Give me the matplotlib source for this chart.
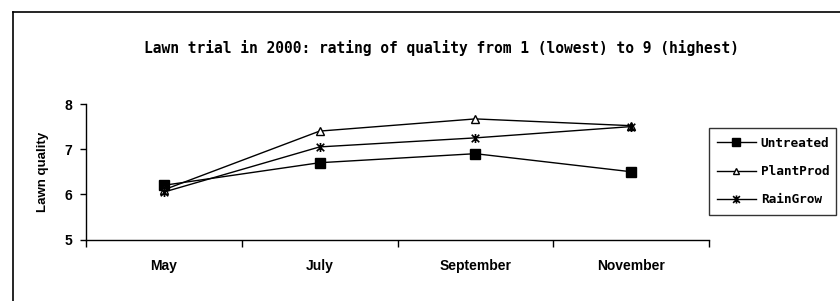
import matplotlib.pyplot as plt
from matplotlib.path import Path
from matplotlib.lines import Line2D

# data
months = ["May", "July", "September", "November"]
untreated = [6.2, 6.7, 6.9, 6.5]
plantprod = [6.1, 7.4, 7.67, 7.52]
raingrow = [6.05, 7.05, 7.25, 7.5]
y_ticks = [5, 6, 7, 8]

# Excel style "star" marker: an x with a vertical bar
star = Path([(-1, -1), (1, 1), (-1, 1), (1, -1), (0, -1.2), (0, 1.2)],
            [Path.MOVETO, Path.LINETO, Path.MOVETO, Path.LINETO, Path.MOVETO, Path.LINETO])

fig = plt.figure(figsize=(8.4, 3.01), dpi=100)
W, H = 840, 301

# outer chart border (left and top only are visible)
fig.add_artist(Line2D([13.5 / W, 13.5 / W], [0, 1 - 11.5 / H], color="black", lw=1.2))
fig.add_artist(Line2D([13.5 / W, 1], [1 - 11.5 / H, 1 - 11.5 / H], color="black", lw=1.2))

ax = fig.add_axes([86 / W, 1 - 239.5 / H, (709 - 86) / W, (239.5 - 104) / H])

x = [i + 0.5 for i in range(len(months))]
ax.plot(x, untreated, color="black", lw=1, marker="s", ms=6.5, mfc="black", mec="black", label="Untreated")
ax.plot(x, plantprod, color="black", lw=1, marker="^", ms=5.5, mfc="white", mec="black", mew=1, label="PlantProd")
ax.plot(x, raingrow, color="black", lw=1, marker=star, ms=6.5, mec="black", mew=1.2, label="RainGrow")

ax.set_xlim(0, len(months))
ax.set_ylim(5, 8)
ax.set_yticks(y_ticks)
ax.set_xticks(range(len(months) + 1))
ax.set_xticklabels([])
ax.set_xticks(x, minor=True)
ax.set_xticklabels(months, minor=True, fontsize=10, fontweight="bold", family="Liberation Sans")
ax.tick_params(axis="x", which="minor", length=0, pad=14)
ax.tick_params(axis="x", which="major", length=5, direction="out", width=1)
ax.tick_params(axis="y", length=4, direction="out", width=1, labelsize=10, pad=6)
for lab in ax.get_yticklabels():
    lab.set_fontweight("bold")
    lab.set_family("Liberation Sans")

for side in ["top", "right"]:
    ax.spines[side].set_visible(False)
for side in ["left", "bottom"]:
    ax.spines[side].set_linewidth(1)

ax.set_ylabel("Lawn quality", fontsize=9.5, fontweight="bold", family="Liberation Sans", labelpad=11)

fig.text(442 / W, 1 - 48 / H, "Lawn trial in 2000: rating of quality from 1 (lowest) to 9 (highest)",
         ha="center", va="center", fontsize=10.5, fontweight="bold", family="DejaVu Sans Mono")

leg = ax.legend(loc="center left", bbox_to_anchor=(709 / W, 1 - 216 / H, 127 / W, 89 / H),
                bbox_transform=fig.transFigure, mode="expand", frameon=True, fancybox=False,
                edgecolor="black", borderaxespad=0, handlelength=3.0, handletextpad=0.4,
                labelspacing=1.2, borderpad=0.65, markerscale=0.9,
                prop={"family": "DejaVu Sans Mono", "weight": "bold", "size": 9.2})
leg.get_frame().set_linewidth(1)

fig.savefig("out.png", dpi=100)
